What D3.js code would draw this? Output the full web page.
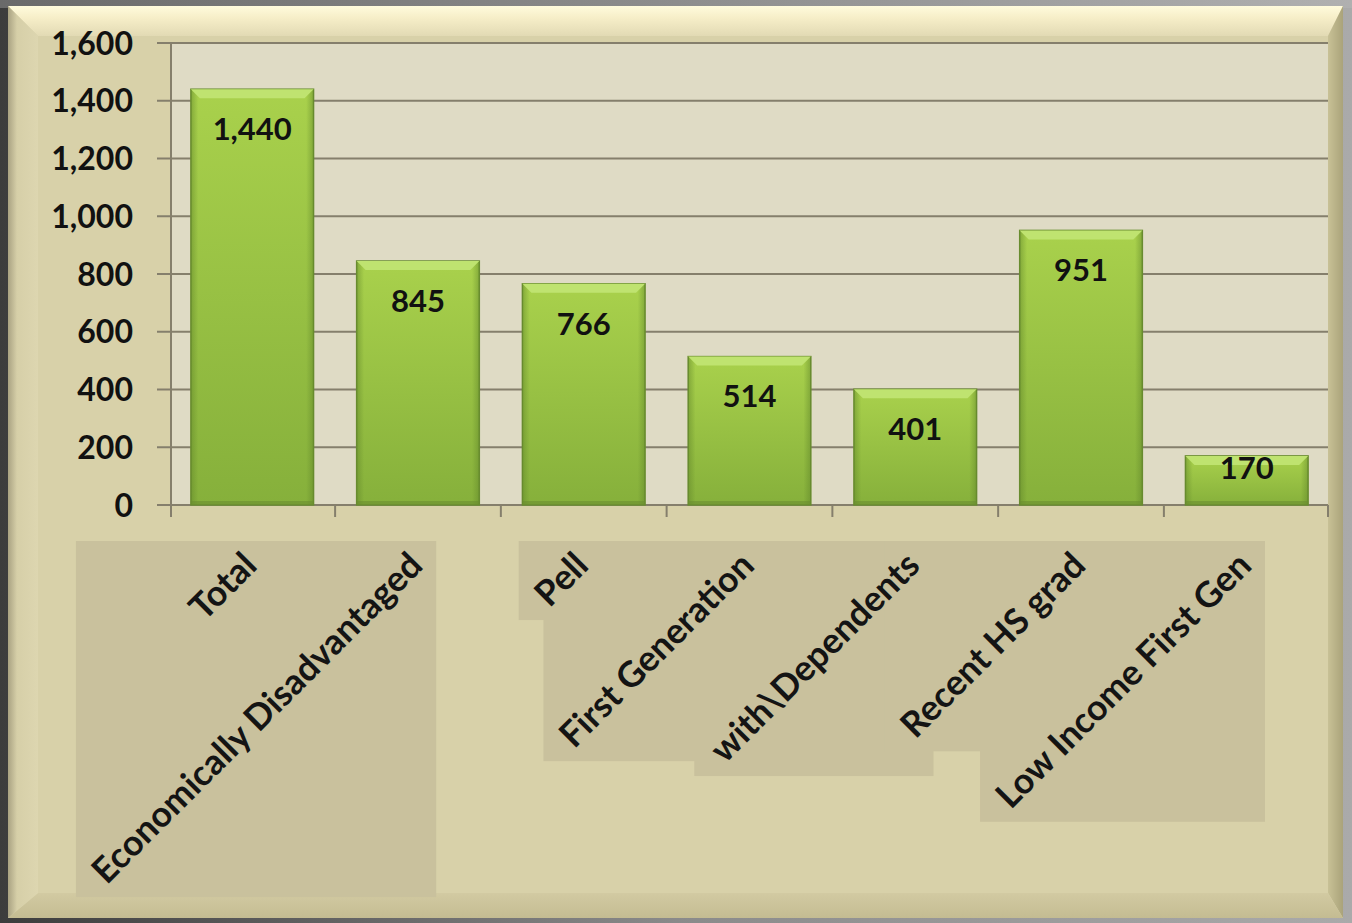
<!DOCTYPE html>
<html>
<head>
<meta charset="utf-8">
<script src="https://cdn.jsdelivr.net/npm/d3@7"></script>
<style>
html,body{margin:0;padding:0;background:#555;}
svg{display:block;}
</style>
</head>
<body>
<svg id="chart" width="1352" height="923"></svg>
<script>
const categories = ["Total","Economically Disadvantaged","Pell","First Generation","with\\Dependents","Recent HS grad","Low Income First Gen"];
const values = [1440, 845, 766, 514, 401, 951, 170];
const yTicks = [0, 200, 400, 600, 800, 1000, 1200, 1400, 1600];

const W = 1352, H = 923;
const svg = d3.select("#chart");
const defs = svg.append("defs");

// outer background gradient
const bg = defs.append("linearGradient").attr("id","bg").attr("x1","0").attr("y1","0").attr("x2","1").attr("y2","0");
bg.append("stop").attr("offset","0").attr("stop-color","#3c3c3c");
bg.append("stop").attr("offset","0.5").attr("stop-color","#8a8a8a");
bg.append("stop").attr("offset","1").attr("stop-color","#aaaaaa");
svg.append("rect").attr("width",W).attr("height",H).attr("fill","url(#bg)");
const bgT = defs.append("linearGradient").attr("id","bgT").attr("x1","0").attr("y1","0").attr("x2","1").attr("y2","0");
bgT.append("stop").attr("offset","0").attr("stop-color","#6a6a6a");
bgT.append("stop").attr("offset","1").attr("stop-color","#b0b0b0");
svg.append("rect").attr("width",W).attr("height",8).attr("fill","url(#bgT)");

// panel with bevel
const P = {x0:8, y0:6, x1:1343, y1:918};
const I = {x0:38, y0:36, x1:1328, y1:893};
svg.append("rect").attr("x",P.x0).attr("y",P.y0).attr("width",P.x1-P.x0).attr("height",P.y1-P.y0).attr("fill","#d8d1a9");
const gTop = defs.append("linearGradient").attr("id","gTop").attr("x1","0").attr("y1","0").attr("x2","0").attr("y2","1");
gTop.append("stop").attr("offset","0").attr("stop-color","#fffbdc");
gTop.append("stop").attr("offset","0.4").attr("stop-color","#f6eec8");
gTop.append("stop").attr("offset","1").attr("stop-color","#e2dab4");
const gRight = defs.append("linearGradient").attr("id","gRight").attr("x1","0").attr("y1","0").attr("x2","1").attr("y2","0");
gRight.append("stop").attr("offset","0").attr("stop-color","#c8c196");
gRight.append("stop").attr("offset","1").attr("stop-color","#aaa37a");
const gLeft = defs.append("linearGradient").attr("id","gLeft").attr("x1","0").attr("y1","0").attr("x2","1").attr("y2","0");
gLeft.append("stop").attr("offset","0").attr("stop-color","#a9a282");
gLeft.append("stop").attr("offset","0.3").attr("stop-color","#d6cfa8");
gLeft.append("stop").attr("offset","1").attr("stop-color","#ddd6b0");
const gBot = defs.append("linearGradient").attr("id","gBot").attr("x1","0").attr("y1","0").attr("x2","0").attr("y2","1");
gBot.append("stop").attr("offset","0").attr("stop-color","#d2caa2");
gBot.append("stop").attr("offset","1").attr("stop-color","#c4bc92");
const poly = (pts, fill) => svg.append("polygon").attr("points", pts.map(p=>p.join(",")).join(" ")).attr("fill", fill);
poly([[P.x0,P.y0],[P.x1,P.y0],[I.x1,I.y0],[I.x0,I.y0]], "url(#gTop)");
poly([[P.x1,P.y0],[P.x1,P.y1],[I.x1,I.y1],[I.x1,I.y0]], "url(#gRight)");
poly([[P.x0,P.y1],[P.x1,P.y1],[I.x1,I.y1],[I.x0,I.y1]], "url(#gBot)");
poly([[P.x0,P.y0],[I.x0,I.y0],[I.x0,I.y1],[P.x0,P.y1]], "url(#gLeft)");

// chart scales
const plot = {left:171, right:1328, top:43, bottom:505};
const x = d3.scaleBand().domain(categories).range([plot.left, plot.right]).paddingInner(0.26).paddingOuter(0.12);
const y = d3.scaleLinear().domain([0, 1600]).range([plot.bottom, plot.top]);

// plot area background
svg.append("rect").attr("x",plot.left).attr("y",plot.top).attr("width",plot.right-plot.left).attr("height",plot.bottom-plot.top).attr("fill","#dfdbc5");

// category labels (draw first to compute boxes)
const labelG = svg.append("g");
const boxG = labelG.append("g");
const textG = labelG.append("g");
const fontFam = "Lato, 'Open Sans', sans-serif";
const labels = textG.selectAll("text").data(categories).enter().append("text")
  .attr("transform", d => `translate(${x(d)+x.bandwidth()/2-12},${549}) rotate(-45)`)
  .attr("text-anchor","end")
  .attr("dy","0.74em")
  .attr("font-family", fontFam)
  .attr("font-weight","bold")
  .attr("font-size", 35.5)
  .attr("fill","#141414")
  .text(d => d);
labels.each(function(){
  const b = this.getBoundingClientRect();
  const pad = 6;
  boxG.append("rect")
    .attr("x", b.left - pad).attr("y", 541)
    .attr("width", b.width + 2*pad).attr("height", b.bottom + pad - 541)
    .attr("fill","#c9c19d");
});

// gridlines
svg.append("g").selectAll("line").data(yTicks).enter().append("line")
  .attr("x1", plot.left - 14).attr("x2", plot.right)
  .attr("y1", d => y(d)).attr("y2", d => y(d))
  .attr("stroke","#857f6c").attr("stroke-width",2);

// y axis
const yAxis = d3.axisLeft(y).tickValues(yTicks).tickSize(0).tickPadding(38).tickFormat(d3.format(","));
const ya = svg.append("g").attr("transform",`translate(${plot.left},0)`).call(yAxis);
ya.select(".domain").remove();
ya.selectAll("text").attr("font-family", fontFam).attr("font-weight","bold").attr("font-size",32).attr("fill","#111").attr("dy","0.35em");
svg.append("line").attr("x1",plot.left).attr("x2",plot.left).attr("y1",plot.top).attr("y2",plot.bottom+12).attr("stroke","#857f6c").attr("stroke-width",2);

// x ticks
const xTickPos = categories.map(c => x(c) - x.step()*x.paddingInner()/2).concat([plot.right]);
xTickPos[0] = plot.left;
svg.append("g").selectAll("line").data(xTickPos).enter().append("line")
  .attr("x1", d=>d).attr("x2", d=>d).attr("y1", plot.bottom).attr("y2", plot.bottom+12)
  .attr("stroke","#857f6c").attr("stroke-width",2);

// bars
const gBar = defs.append("linearGradient").attr("id","gBar").attr("x1","0").attr("y1","0").attr("x2","0").attr("y2","1");
gBar.append("stop").attr("offset","0").attr("stop-color","#a9d14c");
gBar.append("stop").attr("offset","1").attr("stop-color","#86b03b");
const gBarSide = defs.append("linearGradient").attr("id","gBarSide").attr("x1","0").attr("y1","0").attr("x2","1").attr("y2","0");
gBarSide.append("stop").attr("offset","0").attr("stop-color","#5f8429").attr("stop-opacity",0.5);
gBarSide.append("stop").attr("offset","0.06").attr("stop-color","#5f8429").attr("stop-opacity",0);
gBarSide.append("stop").attr("offset","0.94").attr("stop-color","#5f8429").attr("stop-opacity",0);
gBarSide.append("stop").attr("offset","1").attr("stop-color","#5f8429").attr("stop-opacity",0.5);
const bars = svg.append("g").selectAll("g").data(values).enter().append("g");
bars.append("rect")
  .attr("x",(d,i)=>x(categories[i])).attr("y",d=>y(d))
  .attr("width",x.bandwidth()).attr("height",d=>y(0)-y(d))
  .attr("fill","url(#gBar)").attr("stroke","#6a8d30").attr("stroke-width",1.5);
bars.append("rect")
  .attr("x",(d,i)=>x(categories[i])).attr("y",d=>y(d))
  .attr("width",x.bandwidth()).attr("height",d=>y(0)-y(d))
  .attr("fill","url(#gBarSide)");
bars.append("polygon")
  .attr("points",(d,i)=>{
    const x0 = x(categories[i]), x1 = x0 + x.bandwidth(), t = y(d), b = 9;
    return [[x0,t],[x1,t],[x1-b,t+b],[x0+b,t+b]].map(p=>p.join(",")).join(" ");
  })
  .attr("fill","#bfe370");
bars.append("rect")
  .attr("x",(d,i)=>x(categories[i])).attr("y",y(0)-4)
  .attr("width",x.bandwidth()).attr("height",4)
  .attr("fill","#6a8d30").attr("opacity",0.6);

// value labels (inside end, kept within the bar)
bars.append("text")
  .attr("x",(d,i)=>x(categories[i])+x.bandwidth()/2)
  .attr("y",d=>Math.min(y(d)+40, y(0)-37))
  .attr("dy","0.35em")
  .attr("text-anchor","middle")
  .attr("font-family", fontFam).attr("font-weight","bold").attr("font-size",31)
  .attr("fill","#111")
  .text(d => d3.format(",")(d));
</script>
</body>
</html>
